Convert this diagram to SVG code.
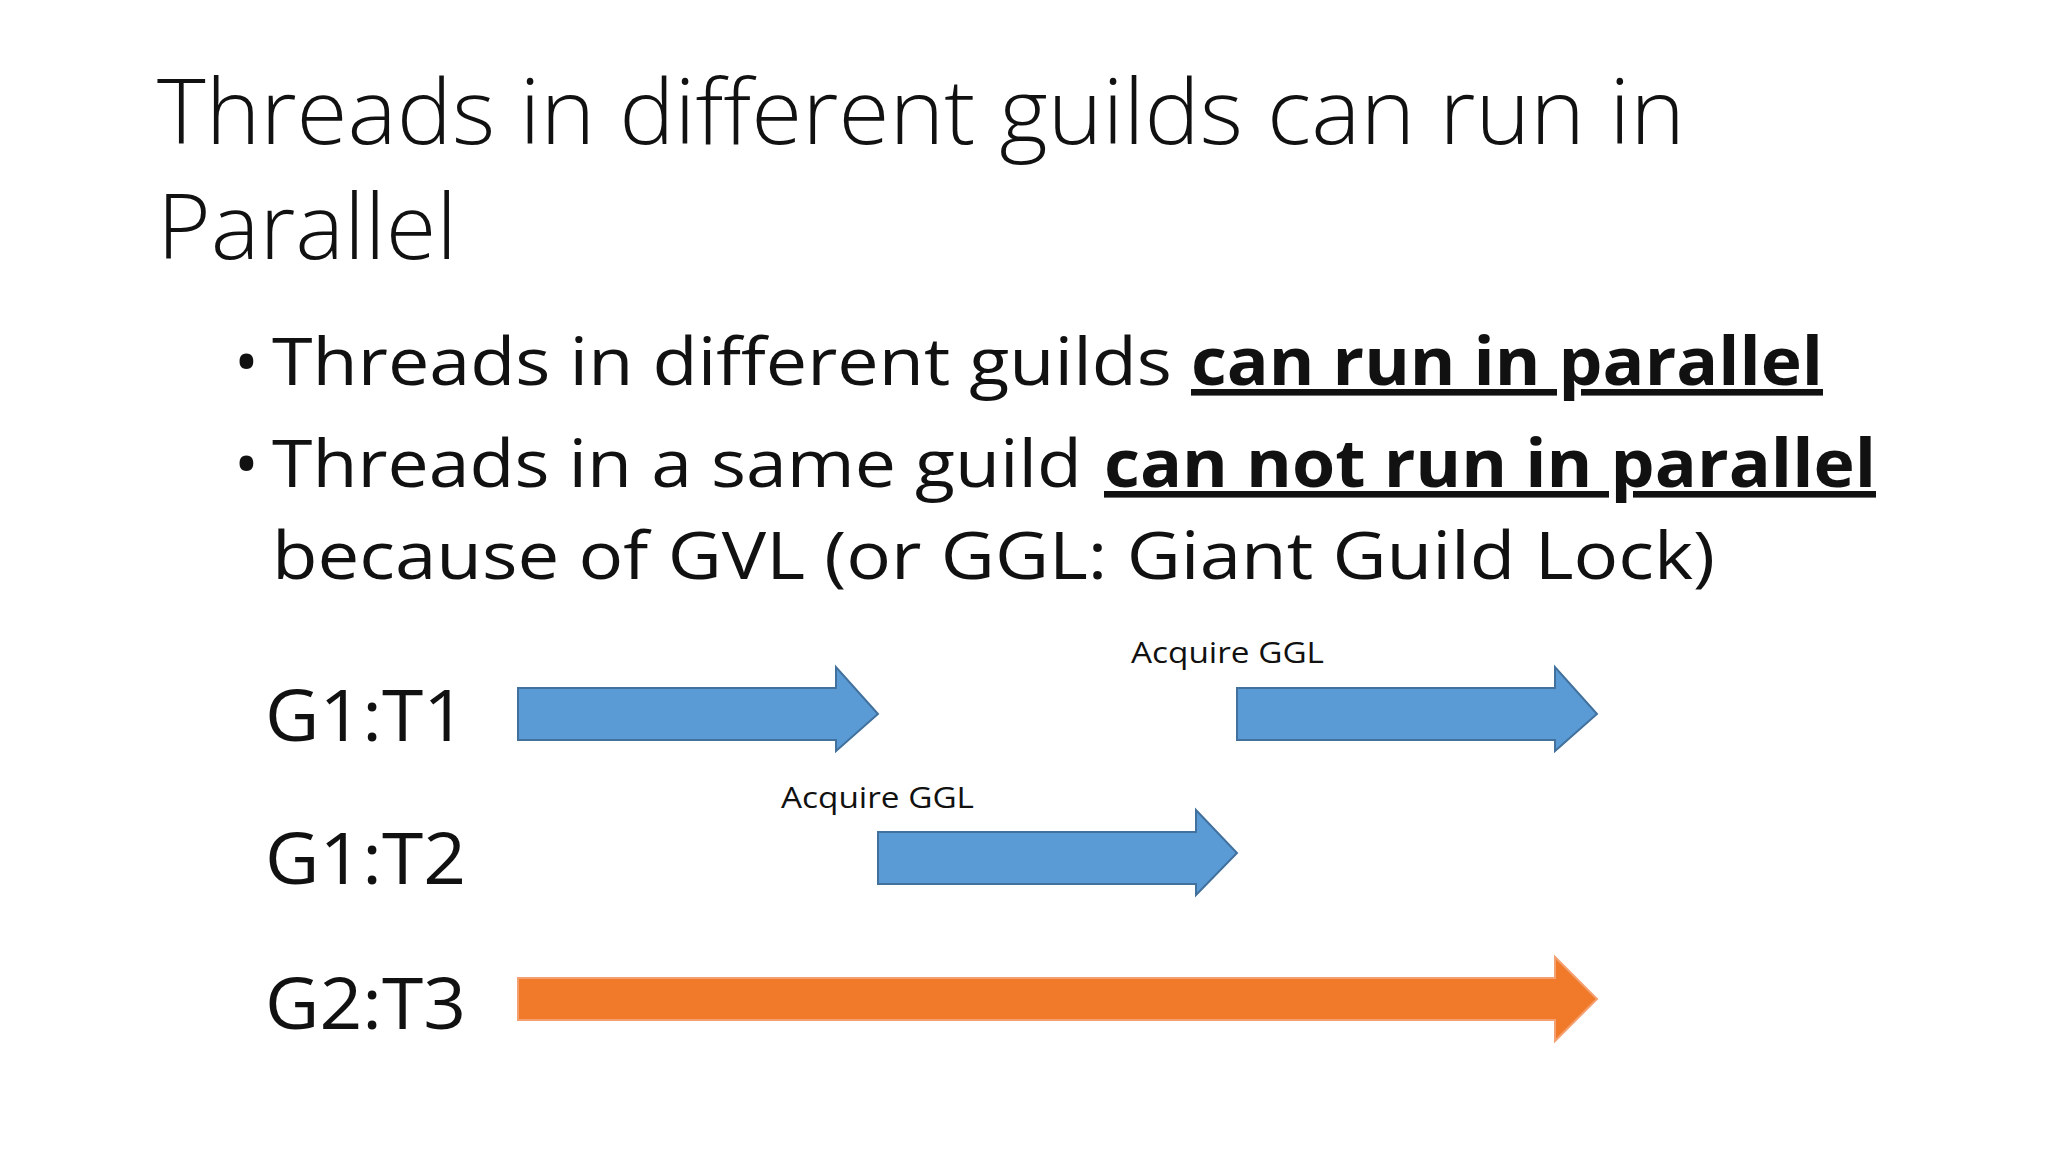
<svg xmlns="http://www.w3.org/2000/svg" width="2048" height="1152" viewBox="0 0 2048 1152">
<style>
text{font-family:"Open Sans","Liberation Sans",sans-serif;fill:#111}
.t{font-size:90px;font-weight:300}
.b{font-size:66px}
.bb{font-size:66px;font-weight:bold;text-decoration:underline}
.lb{font-size:72px}
.s{font-size:30px}
.bl{fill:#5B9BD5;stroke:#41719C;stroke-width:2}
.or{fill:#F07A2A;stroke:#F4A070;stroke-width:2}
</style>
<rect width="2048" height="1152" fill="#fff"/>
<g id="title">
<text class="t" x="157" y="144" textLength="1528" lengthAdjust="spacingAndGlyphs">Threads in different guilds can run in</text>
<text class="t" x="157" y="259" textLength="300" lengthAdjust="spacingAndGlyphs">Parallel</text>
</g>
<g id="bullets">
<text class="b" x="234" y="385">•</text>
<text class="b" x="272" y="385" textLength="900" lengthAdjust="spacingAndGlyphs">Threads in different guilds</text>
<text class="bb" x="1191" y="385" textLength="632" lengthAdjust="spacingAndGlyphs">can run in parallel</text>
<text class="b" x="234" y="487">•</text>
<text class="b" x="272" y="487" textLength="810" lengthAdjust="spacingAndGlyphs">Threads in a same guild</text>
<text class="bb" x="1104" y="487" textLength="772" lengthAdjust="spacingAndGlyphs">can not run in parallel</text>
<text class="b" x="272" y="579" textLength="1443" lengthAdjust="spacingAndGlyphs">because of GVL (or GGL: Giant Guild Lock)</text>
</g>
<g id="labels">
<text class="lb" x="265" y="741" textLength="201" lengthAdjust="spacingAndGlyphs">G1:T1</text>
<text class="lb" x="265" y="884" textLength="201" lengthAdjust="spacingAndGlyphs">G1:T2</text>
<text class="lb" x="265" y="1029" textLength="201" lengthAdjust="spacingAndGlyphs">G2:T3</text>
</g>
<g id="connectors">
<polygon id="a1" class="bl" points="518,688 836,688 836,667 878,714 836,751 836,740 518,740"/>
<polygon id="a2" class="bl" points="1237,688 1555,688 1555,667 1597,714 1555,751 1555,740 1237,740"/>
<polygon id="a3" class="bl" points="878,832 1196,832 1196,810 1237,853 1196,895 1196,884 878,884"/>
<polygon id="a4" class="or" points="518,978 1555,978 1555,957 1597,999 1555,1041 1555,1020 518,1020"/>
</g>
<g id="notes">
<text class="s" x="1131" y="663" textLength="193" lengthAdjust="spacingAndGlyphs">Acquire GGL</text>
<text class="s" x="781" y="808" textLength="193" lengthAdjust="spacingAndGlyphs">Acquire GGL</text>
</g>
</svg>
